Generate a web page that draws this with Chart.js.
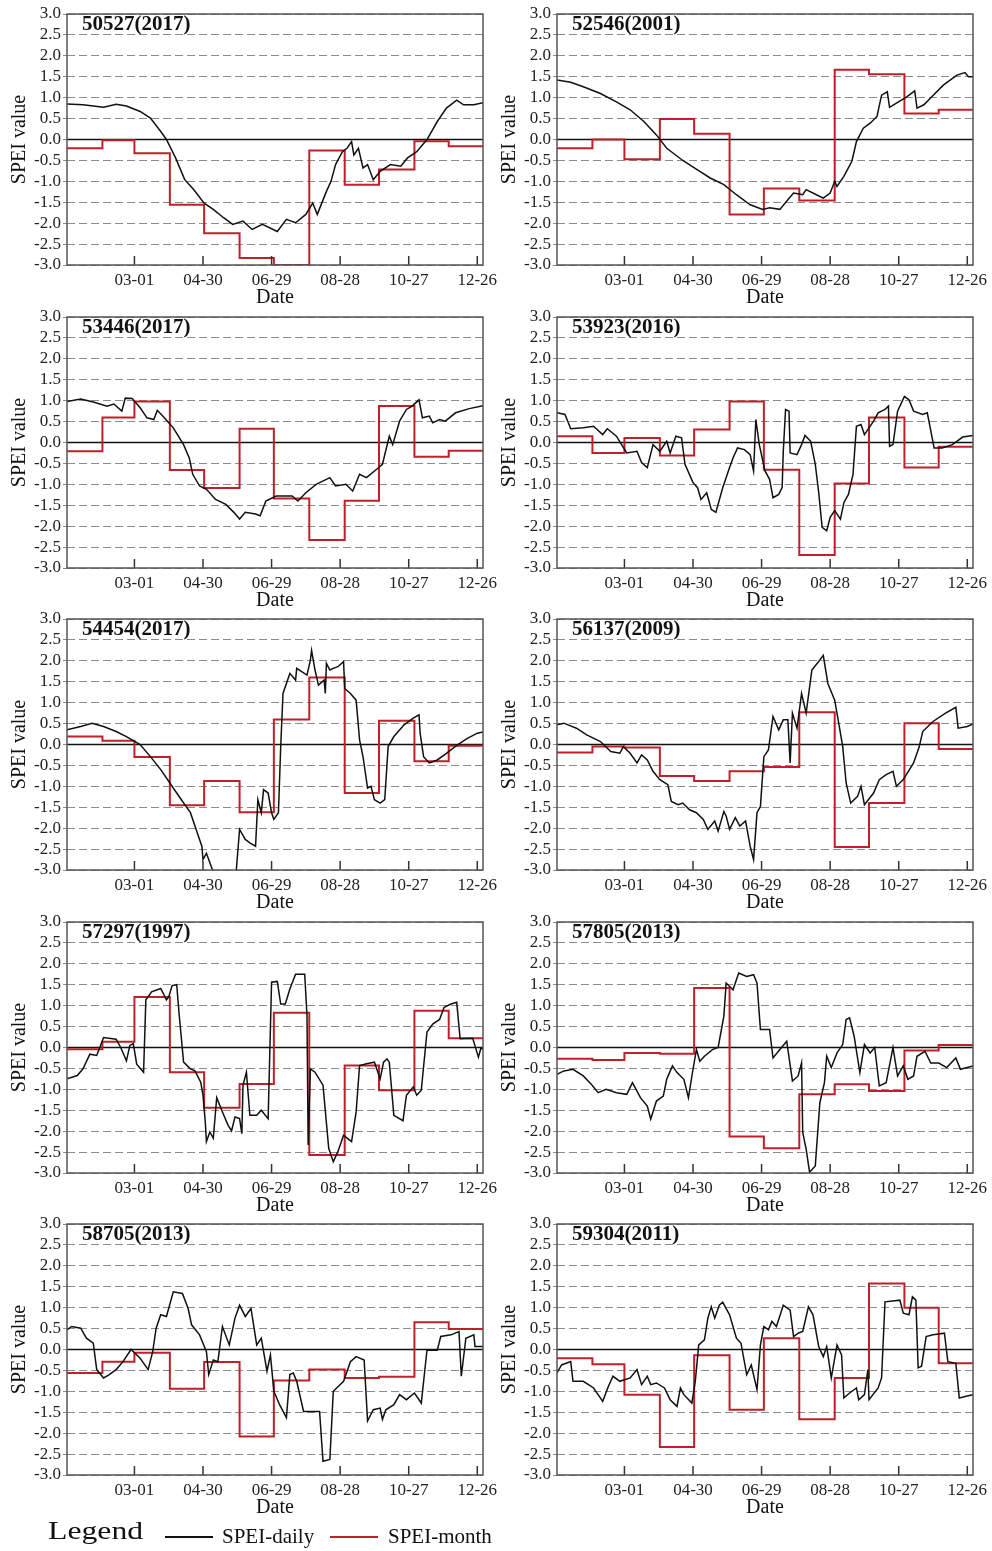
<!DOCTYPE html>
<html>
<head>
<meta charset="utf-8">
<script src="https://cdn.jsdelivr.net/npm/chart.js@4.4.1/dist/chart.umd.min.js"></script>
<style>
body{margin:0;background:#fff;width:992px;height:1551px;position:relative;overflow:hidden;font-family:"Liberation Serif","Times New Roman",serif;color:#111;}
.panel{position:absolute;width:502px;height:308px;}
.lg{position:absolute;white-space:nowrap;line-height:1;}
.lgline{position:absolute;height:2px;width:48px;}
</style>
</head>
<body>
<div id="panels"></div>
<div class="lg" style="left:48px;top:1518px;font-size:26px;transform:scaleX(1.22);transform-origin:left center;">Legend</div>
<div class="lgline" style="left:165px;top:1536px;background:#111;"></div>
<div class="lg" style="left:222px;top:1526px;font-size:21px;">SPEI-daily</div>
<div class="lgline" style="left:330px;top:1536px;background:#c0202a;"></div>
<div class="lg" style="left:388px;top:1526px;font-size:21px;">SPEI-month</div>
<script>
'use strict';
const SERIF = '"Liberation Serif", "Times New Roman", serif';
const RED = '#c0202a';

// x axis: day of year
const monthStarts = [1, 32, 60, 91, 121, 152, 182, 213, 244, 274, 305, 335];
const xTickDays = [60, 120, 180, 240, 300, 360];
const xTickLabels = ['03-01', '04-30', '06-29', '08-28', '10-27', '12-26'];
const yTickVals = [-3, -2.5, -2, -1.5, -1, -0.5, 0, 0.5, 1, 1.5, 2, 2.5, 3];

const stationNames = ['50527(2017)', '52546(2001)', '53446(2017)', '53923(2016)', '54454(2017)',
  '56137(2009)', '57297(1997)', '57805(2013)', '58705(2013)', '59304(2011)'];

// SPEI-month, one value per month
const month50527 = [-0.21, -0.02, -0.33, -1.56, -2.24, -2.83, -3.0, -0.26, -1.08, -0.72, -0.04, -0.16];
const month52546 = [-0.21, 0.0, -0.47, 0.49, 0.14, -1.79, -1.17, -1.46, 1.67, 1.56, 0.62, 0.71];
const month53446 = [-0.21, 0.6, 0.98, -0.66, -1.09, 0.33, -1.34, -2.33, -1.39, 0.87, -0.34, -0.2];
const month53923 = [0.15, -0.25, 0.11, -0.31, 0.31, 0.98, -0.65, -2.69, -0.98, 0.6, -0.6, -0.1];
const month54454 = [0.19, 0.09, -0.3, -1.45, -0.87, -1.62, 0.6, 1.6, -1.16, 0.57, -0.4, -0.03];
const month56137 = [-0.19, -0.05, -0.07, -0.75, -0.87, -0.64, -0.54, 0.77, -2.45, -1.4, 0.51, -0.11];
const month57297 = [-0.04, 0.14, 1.21, -0.59, -1.44, -0.87, 0.83, -2.57, -0.43, -1.02, 0.88, 0.22];
const month57805 = [-0.27, -0.3, -0.13, -0.15, 1.42, -2.13, -2.41, -1.12, -0.88, -1.04, -0.07, 0.06];
const month58705 = [-0.56, -0.29, -0.08, -0.94, -0.3, -2.08, -0.74, -0.48, -0.68, -0.65, 0.65, 0.49];
const month59304 = [-0.21, -0.35, -1.08, -2.33, -0.14, -1.44, 0.27, -1.67, -0.68, 1.58, 1.0, -0.33];

// SPEI-daily, [day of year, value]
const daily50527 = [[1,0.85],[15,0.83],[33,0.77],[44,0.84],[53,0.80],[65,0.67],[74,0.51],[83,0.19],[88,0.0],[96,-0.44],[104,-0.96],[112,-1.2],[121,-1.52],[129,-1.67],[138,-1.87],[146,-2.03],[155,-1.95],[163,-2.15],[172,-2.03],[185,-2.2],[193,-1.91],[201,-1.99],[210,-1.79],[216,-1.52],[220,-1.79],[228,-1.24],[232,-1.0],[236,-0.6],[242,-0.29],[246,-0.21],[250,-0.05],[252,-0.37],[256,-0.21],[260,-0.68],[264,-0.6],[269,-0.96],[275,-0.76],[284,-0.6],[293,-0.64],[299,-0.44],[307,-0.29],[316,0.0],[325,0.43],[333,0.75],[342,0.94],[348,0.83],[357,0.83],[365,0.88]];
const daily52546 = [[1,1.42],[13,1.37],[24,1.26],[39,1.10],[53,0.9],[65,0.71],[77,0.43],[88,0.11],[97,-0.21],[112,-0.52],[126,-0.76],[135,-0.92],[147,-1.08],[158,-1.32],[170,-1.56],[181,-1.67],[187,-1.63],[196,-1.67],[203,-1.44],[208,-1.28],[216,-1.32],[219,-1.2],[228,-1.32],[234,-1.4],[240,-1.28],[244,-1.0],[246,-1.12],[252,-0.88],[259,-0.52],[263,-0.05],[269,0.27],[275,0.39],[281,0.55],[285,1.06],[290,1.14],[292,0.77],[298,0.87],[307,1.02],[314,1.16],[316,0.75],[322,0.83],[330,1.05],[339,1.30],[351,1.54],[358,1.60],[361,1.5],[365,1.5]];
const daily53446 = [[1,0.98],[13,1.04],[24,0.97],[36,0.87],[42,0.92],[49,0.75],[52,1.06],[58,1.05],[65,0.83],[71,0.59],[77,0.55],[80,0.77],[85,0.63],[94,0.35],[103,-0.05],[108,-0.37],[111,-0.76],[117,-1.04],[123,-1.12],[131,-1.36],[140,-1.48],[147,-1.67],[152,-1.83],[157,-1.67],[166,-1.71],[170,-1.75],[175,-1.40],[184,-1.28],[198,-1.28],[203,-1.40],[210,-1.2],[219,-1.0],[231,-0.84],[236,-1.04],[245,-1.0],[251,-1.16],[257,-0.76],[263,-0.84],[272,-0.64],[277,-0.52],[283,0.15],[286,-0.05],[292,0.51],[298,0.79],[303,0.87],[309,1.02],[312,0.59],[318,0.63],[321,0.47],[327,0.55],[332,0.51],[341,0.71],[353,0.81],[365,0.88]];
const daily53923 = [[1,0.71],[8,0.67],[13,0.33],[24,0.35],[33,0.39],[41,0.19],[45,0.33],[53,0.15],[62,-0.25],[71,-0.21],[75,-0.48],[80,-0.6],[85,-0.05],[91,-0.21],[97,0.03],[100,-0.25],[105,0.15],[110,0.11],[113,-0.52],[120,-0.96],[124,-1.08],[127,-1.36],[132,-1.2],[136,-1.6],[140,-1.67],[146,-1.08],[152,-0.6],[155,-0.37],[159,-0.13],[165,-0.17],[170,-0.29],[173,-0.68],[175,0.55],[178,-0.05],[183,-0.68],[187,-0.88],[190,-1.32],[195,-1.24],[198,-1.08],[199,-0.21],[201,0.79],[204,0.75],[205,-0.25],[211,-0.29],[215,-0.05],[218,0.17],[223,0.03],[227,-0.52],[230,-1.2],[233,-2.03],[237,-2.11],[240,-1.79],[244,-1.63],[249,-1.83],[252,-1.44],[256,-1.24],[260,-0.76],[263,0.39],[267,0.43],[270,0.19],[278,0.51],[282,0.71],[288,0.79],[291,0.87],[292,-0.09],[295,-0.05],[299,0.75],[305,1.1],[309,1.02],[313,0.75],[321,0.67],[325,0.71],[331,-0.13],[338,-0.13],[347,-0.05],[356,0.13],[365,0.17]];
const daily54454 = [[1,0.35],[13,0.43],[23,0.51],[33,0.43],[44,0.31],[53,0.19],[65,0.0],[74,-0.29],[83,-0.6],[91,-0.92],[100,-1.28],[109,-1.63],[114,-2.03],[119,-2.43],[120,-2.75],[123,-2.6],[129,-3.05],[138,-3.6],[148,-3.3],[149,-3.05],[152,-2.03],[157,-2.27],[161,-2.35],[166,-2.43],[168,-1.32],[171,-1.63],[173,-1.08],[177,-1.16],[180,-1.63],[182,-1.79],[186,-1.63],[188,-0.05],[190,1.22],[196,1.7],[201,1.54],[202,1.82],[211,1.66],[214,2.02],[215,2.25],[218,1.78],[221,1.42],[226,1.54],[227,1.22],[228,1.94],[231,1.78],[234,1.82],[238,1.86],[243,1.98],[244,1.34],[249,1.22],[254,1.06],[257,0.11],[260,-0.29],[264,-1.04],[267,-1.0],[270,-1.32],[275,-1.40],[279,-1.32],[282,-0.05],[287,0.19],[296,0.47],[304,0.63],[309,0.71],[310,0.27],[313,-0.29],[318,-0.44],[325,-0.37],[333,-0.21],[342,-0.02],[351,0.14],[360,0.27],[365,0.3]];
const daily56137 = [[1,0.47],[7,0.51],[18,0.39],[27,0.23],[39,0.07],[48,-0.17],[56,-0.21],[59,-0.05],[65,-0.21],[71,-0.44],[75,-0.25],[80,-0.37],[85,-0.64],[91,-0.84],[98,-0.96],[101,-1.36],[107,-1.44],[111,-1.40],[117,-1.56],[123,-1.63],[129,-1.79],[133,-2.03],[139,-1.83],[142,-2.07],[147,-1.6],[149,-1.71],[152,-2.03],[157,-1.75],[161,-1.95],[166,-1.83],[170,-2.43],[173,-2.75],[176,-1.63],[179,-1.48],[182,-0.29],[186,-0.13],[190,0.67],[195,0.35],[199,0.59],[203,0.59],[205,-0.44],[207,0.75],[211,0.39],[215,1.22],[219,0.75],[224,1.78],[231,2.02],[234,2.13],[238,1.46],[244,1.06],[247,0.59],[251,-0.05],[254,-0.92],[258,-1.40],[264,-1.24],[267,-1.0],[270,-1.44],[278,-1.16],[283,-0.84],[289,-0.72],[295,-0.64],[298,-1.0],[304,-0.84],[313,-0.44],[318,-0.05],[321,0.31],[330,0.55],[341,0.75],[350,0.89],[352,0.39],[360,0.43],[365,0.49]];
const daily57297 = [[1,-0.75],[10,-0.67],[15,-0.51],[21,-0.16],[27,-0.19],[33,0.24],[44,0.2],[48,0.0],[53,-0.32],[56,0.05],[59,0.09],[62,-0.4],[68,-0.59],[70,1.14],[75,1.33],[83,1.41],[88,1.14],[90,1.21],[93,1.48],[97,1.5],[99,0.83],[103,-0.35],[109,-0.51],[113,-0.56],[118,-0.83],[120,-1.14],[122,-1.78],[123,-2.25],[126,-2.02],[129,-2.17],[132,-1.2],[137,-1.54],[142,-1.86],[145,-1.99],[148,-1.66],[152,-1.7],[154,-2.06],[155,-0.9],[158,-0.59],[161,-1.62],[167,-1.62],[171,-1.5],[177,-1.7],[180,1.56],[185,1.58],[188,1.04],[192,1.04],[196,1.4],[201,1.75],[209,1.75],[211,0.76],[212,-2.33],[214,-0.51],[218,-0.59],[225,-0.9],[230,-2.41],[234,-2.73],[238,-2.49],[243,-2.1],[250,-2.25],[254,-1.54],[257,-0.43],[263,-0.39],[270,-0.35],[275,-0.75],[278,-0.35],[281,-0.27],[283,-0.35],[287,-1.62],[295,-1.75],[298,-1.14],[304,-0.94],[307,-1.14],[311,-1.02],[316,0.37],[321,0.56],[327,0.67],[331,0.96],[337,1.04],[342,1.08],[345,0.21],[356,0.22],[361,-0.23],[363,-0.03],[365,-0.03]];
const daily57805 = [[1,-0.64],[7,-0.56],[15,-0.52],[24,-0.68],[31,-0.88],[37,-1.08],[44,-1.0],[53,-1.08],[62,-1.12],[67,-0.84],[74,-1.2],[80,-1.4],[83,-1.71],[88,-1.28],[94,-1.16],[97,-0.76],[102,-0.44],[106,-0.6],[112,-0.76],[116,-1.2],[120,-0.52],[123,-0.05],[126,-0.33],[130,-0.21],[137,-0.05],[142,0.0],[147,0.75],[149,1.54],[155,1.38],[160,1.78],[167,1.7],[173,1.74],[176,1.54],[179,0.43],[187,0.43],[190,-0.25],[196,-0.05],[202,0.15],[207,-0.8],[212,-0.68],[215,-0.37],[216,-2.03],[219,-2.43],[222,-2.98],[227,-2.83],[231,-1.32],[235,-0.84],[237,-0.21],[241,-0.48],[246,-0.13],[251,0.07],[254,0.67],[257,0.71],[261,0.27],[266,-0.6],[270,0.07],[275,-0.13],[279,0.0],[283,-0.92],[289,-0.84],[295,0.0],[299,-0.68],[304,-0.44],[308,-0.76],[313,-0.68],[316,-0.21],[323,-0.09],[328,-0.37],[335,-0.37],[342,-0.48],[350,-0.25],[354,-0.52],[365,-0.44]];
const daily58705 = [[1,0.47],[5,0.55],[13,0.51],[18,0.27],[24,0.15],[27,-0.48],[33,-0.68],[38,-0.6],[44,-0.48],[50,-0.29],[57,0.0],[65,-0.21],[72,-0.48],[76,-0.05],[79,0.51],[83,0.83],[88,0.79],[94,1.38],[102,1.34],[107,0.98],[110,0.59],[117,0.35],[123,-0.05],[125,-0.6],[129,-0.25],[133,-0.29],[137,0.55],[143,0.11],[148,0.75],[152,1.06],[157,0.79],[162,0.98],[167,0.11],[171,0.27],[176,-0.52],[179,-0.13],[182,-1.0],[187,-1.32],[193,-1.63],[196,-0.6],[199,-0.56],[202,-0.76],[208,-1.48],[222,-1.48],[225,-2.67],[231,-2.63],[234,-1.0],[243,-0.76],[249,-0.29],[254,-0.17],[261,-0.25],[264,-1.71],[269,-1.44],[275,-1.4],[277,-1.67],[280,-1.44],[287,-1.32],[292,-1.08],[298,-1.2],[305,-1.04],[311,-1.28],[316,-0.01],[325,-0.02],[328,0.31],[337,0.35],[344,0.43],[346,-0.64],[350,0.27],[357,0.35],[358,0.07],[365,0.07]];
const daily59304 = [[1,-0.56],[5,-0.37],[13,-0.29],[15,-0.76],[24,-0.76],[33,-0.92],[41,-1.24],[46,-0.88],[50,-0.64],[56,-0.76],[65,-0.68],[71,-0.48],[75,-0.84],[80,-0.64],[83,-0.84],[88,-0.8],[95,-0.92],[100,-1.2],[106,-1.36],[109,-0.92],[112,-1.08],[119,-1.28],[122,-0.76],[125,0.11],[130,0.23],[133,0.75],[136,1.02],[139,0.75],[143,1.06],[146,1.13],[152,0.83],[158,0.27],[162,0.15],[167,-0.6],[171,-0.37],[176,-0.96],[179,0.11],[182,0.55],[186,0.47],[189,0.67],[193,0.55],[199,1.06],[205,0.94],[208,0.31],[212,0.39],[216,0.43],[221,1.02],[225,0.83],[230,0.07],[234,-0.17],[237,0.07],[241,-0.68],[246,0.11],[250,-0.13],[252,-1.16],[257,-1.04],[263,-0.92],[265,-1.2],[270,-1.08],[273,-0.48],[274,-1.2],[282,-0.92],[285,-0.68],[288,1.14],[301,1.18],[304,0.87],[309,0.83],[312,1.26],[315,1.18],[317,-0.44],[320,-0.4],[324,0.31],[330,0.35],[340,0.39],[343,-0.29],[350,-0.33],[353,-1.16],[359,-1.12],[365,-1.08]];

const dailySeries = [daily50527, daily52546, daily53446, daily53923, daily54454,
  daily56137, daily57297, daily57805, daily58705, daily59304];
const monthSeries = [month50527, month52546, month53446, month53923, month54454,
  month56137, month57297, month57805, month58705, month59304];

const framePlugin = {
  id: 'frame',
  beforeDatasetsDraw(chart) {
    const {ctx, chartArea: a, scales} = chart;
    const y0 = scales.y.getPixelForValue(0);
    ctx.save();
    ctx.strokeStyle = '#111';
    ctx.lineWidth = 1.3;
    ctx.beginPath();
    ctx.moveTo(a.left, y0);
    ctx.lineTo(a.right, y0);
    ctx.stroke();
    ctx.restore();
  },
  afterDatasetsDraw(chart, args, opts) {
    const {ctx, chartArea: a, scales} = chart;
    ctx.save();
    // inward x ticks
    ctx.strokeStyle = '#333';
    ctx.lineWidth = 1.5;
    xTickDays.forEach(d => {
      const x = scales.x.getPixelForValue(d);
      ctx.beginPath();
      ctx.moveTo(x, a.bottom);
      ctx.lineTo(x, a.bottom - 9);
      ctx.stroke();
    });
    ctx.strokeStyle = '#555';
    ctx.lineWidth = 1.5;
    ctx.strokeRect(a.left, a.top, a.right - a.left, a.bottom - a.top);
    // station label
    ctx.fillStyle = '#111';
    ctx.font = 'bold 21px ' + SERIF;
    ctx.textBaseline = 'middle';
    ctx.fillText(opts.name, a.left + 15, a.top + 11);
    ctx.restore();
  }
};

const holder = document.getElementById('panels');

for (let i = 0; i < stationNames.length; i++) {
  let col = i % 2;
  let row = Math.floor(i / 2);
  let wrap = document.createElement('div');
  wrap.className = 'panel';
  wrap.style.left = (col * 490) + 'px';
  wrap.style.top = Math.round(row * 302.5) + 'px';
  let cv = document.createElement('canvas');
  cv.width = 502;
  cv.height = 308;
  wrap.appendChild(cv);
  holder.appendChild(wrap);

  let monthPts = monthStarts.map((d, k) => ({x: d, y: monthSeries[i][k]}));
  monthPts.push({x: 365, y: monthSeries[i][11]});
  let dailyPts = dailySeries[i].map(p => ({x: p[0], y: p[1]}));

  new Chart(cv, {
    type: 'line',
    data: {
      datasets: [{
        label: 'SPEI-daily',
        data: dailyPts,
        borderColor: '#111',
        borderWidth: 1.5,
        pointRadius: 0,
        tension: 0,
        order: 0
      }, {
        label: 'SPEI-month',
        data: monthPts,
        borderColor: RED,
        borderWidth: 2,
        stepped: 'before',
        pointRadius: 0,
        order: 1
      }]
    },
    options: {
      responsive: false,
      animation: false,
      devicePixelRatio: 1,
      layout: {padding: {left: 10, top: 14, right: 19, bottom: 0}},
      plugins: {
        legend: {display: false},
        tooltip: {enabled: false},
        frame: {name: stationNames[i]}
      },
      scales: {
        x: {
          type: 'linear',
          min: 1,
          max: 365,
          afterBuildTicks: s => { s.ticks = xTickDays.map(v => ({value: v})); },
          afterFit: s => { s.height = 43; s.paddingLeft = 0; s.paddingRight = 0; },
          grid: {display: false, drawTicks: false},
          border: {display: false},
          ticks: {
            autoSkip: false,
            maxRotation: 0,
            padding: 5,
            color: '#222',
            font: {family: SERIF, size: 17},
            callback: (v, idx) => xTickLabels[idx]
          },
          title: {display: true, text: 'Date', color: '#111', padding: 0, font: {family: SERIF, size: 20, lineHeight: 1}}
        },
        y: {
          min: -3,
          max: 3,
          afterBuildTicks: s => { s.ticks = yTickVals.map(v => ({value: v})); },
          afterFit: s => { s.width = 57; s.paddingTop = 0; s.paddingBottom = 0; },
          grid: {color: '#8c8c8c', lineWidth: 1, tickLength: 4, drawTicks: true},
          border: {display: false, dash: [8, 4]},
          ticks: {
            autoSkip: false,
            padding: 2,
            color: '#222',
            font: {family: SERIF, size: 17},
            callback: v => v.toFixed(1)
          },
          title: {display: true, text: 'SPEI value', color: '#111', padding: 0, font: {family: SERIF, size: 20, lineHeight: 1}}
        }
      }
    },
    plugins: [framePlugin]
  });
}
</script>
</body>
</html>
